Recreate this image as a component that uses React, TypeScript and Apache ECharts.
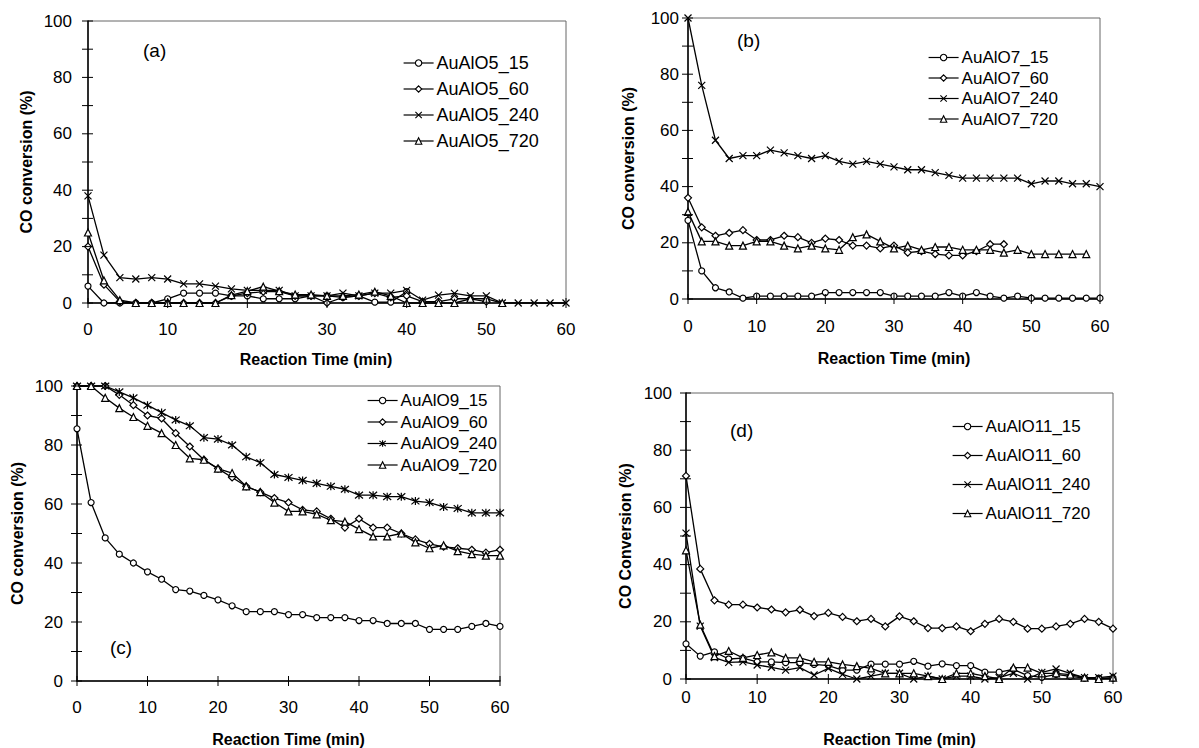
import React, { useEffect, useRef } from "react";
import * as echarts from "echarts";

const times = [0, 2, 4, 6, 8, 10, 12, 14, 16, 18, 20, 22, 24, 26, 28, 30, 32, 34, 36, 38, 40, 42, 44, 46, 48, 50, 52, 54, 56, 58, 60];
const xTicks = [0, 10, 20, 30, 40, 50, 60];
const yTicks = [0, 10, 20, 30, 40, 50, 60, 70, 80, 90, 100];

// Panel (a)
const a15 = [6, 0, 0, 0, 0, 1.5, 3.5, 3.5, 3.5, 2.5, 2.5, 1.5, 1.5, 1.5, 2.5, 2.5, 2, 2.5, 0.3, 0.3, 4];
const a60 = [20, 6.5, 0.5, 0, 0, 0, 0, 0, 0, 2.5, 3.5, 4, 4, 2.5, 2.5, 0, 2, 2.5, 3.5, 2, 2.5, 0.5, 0.5, 1.5, 1.5, 0.5];
const a240 = [38, 17, 9, 8.5, 9, 8.5, 6.8, 6.8, 6, 5, 4.5, 4.5, 4.5, 2.5, 2.5, 2.5, 3.5, 2.5, 3.5, 3.5, 4.5, 1, 2.8, 3.4, 2.5, 2.5, 0, 0, 0, 0, 0];
const a720 = [25, 8, 1, 0, 0, 0, 0, 0, 0, 2.8, 4.2, 5.8, 4.2, 3, 3, 2.5, 2.5, 3, 4, 2.5, 0, 0, 0, 0, 1.5, 1.5, 0];

// Panel (b)
const b15 = [28, 10, 4, 2.5, 0.3, 1, 1, 1, 1, 1, 2.3, 2.3, 2.3, 2.3, 2.3, 1, 1, 1, 1, 2.3, 1, 2.3, 1, 0.3, 1, 0.3, 0.3, 0.3, 0.3, 0.3, 0.3];
const b60 = [36, 25.5, 22.5, 23.5, 24.5, 21, 21, 22.5, 22, 20, 21.5, 21, 19, 19, 18, 19, 16.5, 17, 16, 15.5, 15.5, 17, 19.5, 19.5];
const b240 = [100, 76, 56.5, 50, 51, 51, 53, 52, 51, 50, 51, 49, 48, 49, 48, 47, 46, 46, 45, 44, 43, 43, 43, 43, 43, 41, 42, 42, 41, 41, 40];
const b720 = [31, 20.5, 20.5, 19, 19, 20.5, 20.5, 19, 18, 19, 18, 17.5, 22, 23, 20.5, 18, 19, 17.5, 18.5, 18.5, 17.5, 17.5, 17.5, 16.5, 17.5, 16, 16, 16, 16, 16];

// Panel (c)
const c15 = [85.5, 60.5, 48.5, 43, 40, 37, 34.5, 31, 30.5, 29, 27.5, 25.5, 23.5, 23.5, 23.5, 22.5, 22.5, 21.5, 21.5, 21.5, 20.5, 20.5, 19.5, 19.5, 19.5, 17.5, 17.5, 17.5, 18.5, 19.5, 18.5];
const c60 = [100, 100, 100, 97, 93.5, 90, 89, 84, 79.5, 75, 72, 69, 66, 64, 62, 60.5, 58, 57.5, 55, 52, 55, 52, 52, 50, 48, 46.5, 45.5, 45, 44.5, 43.5, 44.5];
const c240 = [100, 100, 100, 98, 96, 93.5, 91, 88.5, 86.5, 82.5, 82, 80, 76, 74, 70, 69, 68, 67, 66, 65, 63, 63, 62.5, 62.5, 61, 60.5, 59, 58.5, 57, 57, 57];
const c720 = [100, 100, 96, 92.5, 89.5, 86.5, 84, 80, 75.5, 75, 72, 70.5, 66, 64, 60.5, 57.5, 57.5, 56.5, 54.5, 54, 51.5, 49, 49, 50, 47, 45, 46, 44, 43, 42.5, 42.5];

// Panel (d)
const d15 = [12.3, 8, 9.5, 7, 7.3, 6, 6, 5.7, 5.7, 5.1, 4.7, 3.1, 3.1, 5.2, 5.2, 5.2, 6.2, 4.5, 5.3, 4.7, 4.7, 2.4, 2.4, 3.4, 1.2, 0.6, 1.6, 0.9, 0.3, 0.3, 0.3];
const d60 = [71, 38.5, 27.5, 26, 26, 25, 24.3, 23.3, 24.2, 22, 23.1, 21.7, 20.2, 21, 18.4, 21.9, 20.2, 17.8, 17.8, 18.4, 16.7, 19.3, 21, 20, 17.6, 17.6, 18.4, 19.3, 21, 20, 17.6];
const d240 = [51, 18.5, 7.5, 5.8, 6, 4.9, 4.1, 3.1, 4, 1.4, 3.7, 1.6, 0, 1, 2, 2, 0, 1, 0, 1, 1, 0, 0.5, 2, 0, 2.3, 3.5, 2, 0.5, 0.5, 1];
const d720 = [45, 19, 8, 9.8, 7.4, 8.4, 9.3, 7.4, 7.4, 6, 6, 5.1, 4.5, 3.7, 2, 2, 2, 1, 0, 2, 2, 1, 0, 4, 4, 2, 2, 1.5, 0.5, 0, 0.5];

const FONT = "'Liberation Sans', Arial, sans-serif";
const X_PATH = "path://M0,0L10,10M10,0L0,10";
const STAR_PATH = "path://M0,0L10,10M10,0L0,10M5,-1L5,11";

type Panel = {
  grid: { left: number; top: number; width: number; height: number };
  yTitle: string;
  yNameGap: number;
  yLabelMargin: number;
  xNameGap: number;
  xLabelMargin: number;
  xNamePadRight: number;
  label: string;
  labelPos: [number, number];
  legend: { left: number; top: number; gap: number; fontSize: number };
  series: { name: string; data: number[]; symbol: string; size: number }[];
};

const panels: Panel[] = [
  {
    grid: { left: 88, top: 21, width: 478, height: 282 },
    yTitle: "CO conversion (%)",
    yNameGap: 54,
    yLabelMargin: 16,
    xNameGap: 48,
    xLabelMargin: 18,
    xNamePadRight: 22,
    label: "(a)",
    labelPos: [143, 52],
    legend: { left: 403, top: 54, gap: 8, fontSize: 18 },
    series: [
      { name: "AuAlO5_15", data: a15, symbol: "circle", size: 6 },
      { name: "AuAlO5_60", data: a60, symbol: "diamond", size: 7 },
      { name: "AuAlO5_240", data: a240, symbol: X_PATH, size: 7 },
      { name: "AuAlO5_720", data: a720, symbol: "triangle", size: 7 },
    ],
  },
  {
    grid: { left: 688, top: 18, width: 412, height: 281 },
    yTitle: "CO conversion (%)",
    yNameGap: 52,
    yLabelMargin: 9,
    xNameGap: 51,
    xLabelMargin: 19,
    xNamePadRight: 0,
    label: "(b)",
    labelPos: [737, 42],
    legend: { left: 928, top: 49, gap: 3.5, fontSize: 17 },
    series: [
      { name: "AuAlO7_15", data: b15, symbol: "circle", size: 6 },
      { name: "AuAlO7_60", data: b60, symbol: "diamond", size: 7 },
      { name: "AuAlO7_240", data: b240, symbol: X_PATH, size: 7 },
      { name: "AuAlO7_720", data: b720, symbol: "triangle", size: 7 },
    ],
  },
  {
    grid: { left: 77, top: 386, width: 423, height: 295 },
    yTitle: "CO conversion (%)",
    yNameGap: 52,
    yLabelMargin: 14,
    xNameGap: 50,
    xLabelMargin: 18,
    xNamePadRight: 0,
    label: "(c)",
    labelPos: [110, 649],
    legend: { left: 367, top: 392, gap: 4.5, fontSize: 17 },
    series: [
      { name: "AuAlO9_15", data: c15, symbol: "circle", size: 6 },
      { name: "AuAlO9_60", data: c60, symbol: "diamond", size: 7 },
      { name: "AuAlO9_240", data: c240, symbol: STAR_PATH, size: 8 },
      { name: "AuAlO9_720", data: c720, symbol: "triangle", size: 7 },
    ],
  },
  {
    grid: { left: 686, top: 393, width: 427, height: 286 },
    yTitle: "CO Conversion (%)",
    yNameGap: 53,
    yLabelMargin: 14,
    xNameGap: 52,
    xLabelMargin: 10,
    xNamePadRight: 0,
    label: "(d)",
    labelPos: [730, 432],
    legend: { left: 952, top: 418, gap: 12, fontSize: 17 },
    series: [
      { name: "AuAlO11_15", data: d15, symbol: "circle", size: 6 },
      { name: "AuAlO11_60", data: d60, symbol: "diamond", size: 7 },
      { name: "AuAlO11_240", data: d240, symbol: X_PATH, size: 7 },
      { name: "AuAlO11_720", data: d720, symbol: "triangle", size: 7 },
    ],
  },
];

const isPath = (s: string) => s.indexOf("path://") === 0;

function buildOption() {
  const grid: any[] = [];
  const xAxis: any[] = [];
  const yAxis: any[] = [];
  const series: any[] = [];
  const legend: any[] = [];
  const graphic: any[] = [];

  panels.forEach((p, i) => {
    grid.push({
      ...p.grid,
      show: true,
      borderColor: "#666",
      borderWidth: 1,
      backgroundColor: "transparent",
    });
    xAxis.push({
      type: "value",
      gridIndex: i,
      position: "bottom",
      min: 0,
      max: 60,
      interval: 10,
      axisLine: { show: true, onZero: false, lineStyle: { color: "#000", width: 1.5 } },
      axisTick: { show: false },
      axisLabel: { color: "#000", fontSize: 17, fontFamily: FONT, margin: p.xLabelMargin },
      splitLine: { show: false },
      name: "Reaction Time (min)",
      nameLocation: "middle",
      nameGap: p.xNameGap,
      nameTextStyle: {
        color: "#000",
        fontSize: 16,
        fontWeight: "bold",
        fontFamily: FONT,
        padding: [0, p.xNamePadRight, 0, 0],
      },
    });
    yAxis.push({
      type: "value",
      gridIndex: i,
      position: "left",
      min: 0,
      max: 100,
      interval: 20,
      axisLine: { show: true, onZero: false, lineStyle: { color: "#000", width: 1.5 } },
      axisTick: { show: false },
      axisLabel: { color: "#000", fontSize: 17, fontFamily: FONT, margin: p.yLabelMargin },
      splitLine: { show: false },
      name: p.yTitle,
      nameLocation: "middle",
      nameGap: p.yNameGap,
      nameRotate: 90,
      nameTextStyle: { color: "#000", fontSize: 16, fontWeight: "bold", fontFamily: FONT },
    });

    // crossing tick marks on the x axis
    series.push({
      type: "custom",
      xAxisIndex: i,
      yAxisIndex: i,
      silent: true,
      clip: false,
      data: xTicks.map((t) => [t, 0]),
      renderItem: (_params: any, api: any) => {
        const pt = api.coord([api.value(0), 0]);
        return {
          type: "line",
          shape: { x1: pt[0], y1: pt[1] - 5, x2: pt[0], y2: pt[1] + 5 },
          style: { stroke: "#000", lineWidth: 1 },
        };
      },
      z: 5,
    });
    // crossing tick marks on the y axis
    series.push({
      type: "custom",
      xAxisIndex: i,
      yAxisIndex: i,
      silent: true,
      clip: false,
      data: yTicks.map((v) => [0, v]),
      renderItem: (_params: any, api: any) => {
        const pt = api.coord([0, api.value(1)]);
        return {
          type: "line",
          shape: { x1: pt[0] - 6, y1: pt[1], x2: pt[0] + 5, y2: pt[1] },
          style: { stroke: "#000", lineWidth: 1 },
        };
      },
      z: 5,
    });

    p.series.forEach((s) => {
      const fill = isPath(s.symbol) ? "rgba(0,0,0,0)" : "#fff";
      series.push({
        type: "line",
        name: s.name,
        xAxisIndex: i,
        yAxisIndex: i,
        data: s.data.map((v, k) => [times[k], v]),
        symbol: s.symbol,
        symbolSize: s.size,
        showAllSymbol: true,
        clip: false,
        lineStyle: { color: "#000", width: 1.3 },
        itemStyle: { color: fill, borderColor: "#000", borderWidth: 1.2 },
        emphasis: { disabled: true },
        z: 3,
      });
    });

    legend.push({
      data: p.series.map((s) => ({
        name: s.name,
        itemStyle: {
          color: isPath(s.symbol) ? "rgba(0,0,0,0)" : "#fff",
          borderColor: "#000",
          borderWidth: 1.1,
        },
        lineStyle: { color: "#000", width: 1.2 },
      })),
      orient: "vertical",
      left: p.legend.left,
      top: p.legend.top,
      itemWidth: 30,
      itemHeight: 8,
      itemGap: p.legend.gap,
      padding: 0,
      selectedMode: false,
      textStyle: {
        color: "#000",
        fontSize: p.legend.fontSize,
        fontFamily: FONT,
        lineHeight: p.legend.fontSize,
        padding: [0, 0, 0, -2],
      },
    });

    graphic.push({
      type: "text",
      left: p.labelPos[0],
      top: p.labelPos[1] - 11,
      style: { text: p.label, fill: "#000", fontSize: 19, fontFamily: FONT },
    });
  });

  return {
    animation: false,
    backgroundColor: "#fff",
    grid,
    xAxis,
    yAxis,
    series,
    legend,
    graphic,
  };
}

export default function App() {
  const ref = useRef<HTMLDivElement>(null);
  useEffect(() => {
    if (!ref.current) return;
    const chart = echarts.init(ref.current, undefined, { renderer: "svg" });
    chart.setOption(buildOption() as any);
    return () => chart.dispose();
  }, []);
  return (
    <div
      ref={ref}
      style={{ position: "fixed", left: 0, top: 0, width: 1199, height: 748, background: "#fff" }}
    />
  );
}
